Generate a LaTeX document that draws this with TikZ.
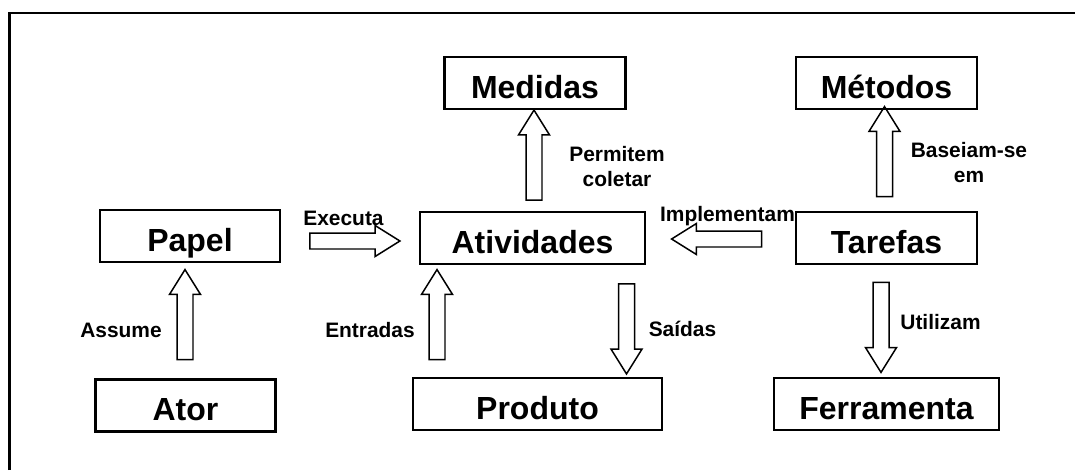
\documentclass[tikz,border=0pt]{standalone}
\usepackage{fontspec}
\setmainfont{Liberation Sans}
\usetikzlibrary{shapes.arrows}
\begin{document}
\begin{tikzpicture}[
    caixa/.style={draw,line width=1.3pt,inner xsep=0pt,inner ysep=0pt,
      text height=0.82cm,text depth=0.22cm,font=\fontsize{18.2}{20}\selectfont\bfseries},
    seta/.style={draw,line width=0.85pt,single arrow,single arrow head extend=0.15cm,
      single arrow tip angle=64,single arrow head indent=0pt,inner sep=0.145cm,minimum height=1.8cm},
    rotulo/.style={font=\fontsize{11.9}{13.7}\selectfont\bfseries,inner sep=0pt,align=center}]
      \useasboundingbox(0,0)rectangle(21.5,9.4);
      \draw[line width=1.3pt](0.19,0)--(0.19,9.14)--(21.5,9.14);

      \node[caixa,minimum width=3.62cm](medidas) at (10.70,7.74){Medidas};
      \node[caixa,minimum width=3.62cm](metodos) at (17.73,7.74){Métodos};
      \node[caixa,minimum width=3.60cm](papel) at (3.80,4.68){Papel};
      \node[caixa,minimum width=4.49cm](atividades) at (10.65,4.64){Atividades};
      \node[caixa,minimum width=3.62cm](tarefas) at (17.73,4.64){Tarefas};
      \node[caixa,minimum width=3.60cm](ator) at (3.71,1.29){Ator};
      \node[caixa,minimum width=4.97cm](produto) at (10.75,1.32){Produto};
      \node[caixa,minimum width=4.50cm](ferramenta) at (17.73,1.32){Ferramenta};

      \node[seta](executa) at (6.97,4.58){};
      \node[seta,shape border rotate=180](implementam) at (14.46,4.62){};
      \node[seta,shape border rotate=90](permitem) at (10.68,6.17){};
      \node[seta,shape border rotate=90](baseiam) at (17.69,6.24){};
      \node[seta,shape border rotate=90](assume) at (3.70,2.98){};
      \node[seta,shape border rotate=90](entradas) at (8.74,2.98){};
      \node[seta,shape border rotate=270](saidas) at (12.53,2.95){};
      \node[seta,shape border rotate=270](utilizam) at (17.62,2.98){};

      \node[rotulo,anchor=base](lexecuta) at (6.87,4.90){Executa};
      \node[rotulo,anchor=base](limplementam) at (14.55,4.98){Implementam};
      \node[rotulo](lpermitem) at (12.34,6.07){Permitem\\coletar};
      \node[rotulo](lbaseiam) at (19.38,6.15){Baseiam-se\\em};
      \node[rotulo,anchor=base](lassume) at (2.42,2.66){Assume};
      \node[rotulo,anchor=base](lentradas) at (7.40,2.66){Entradas};
      \node[rotulo,anchor=base](lsaidas) at (13.65,2.68){Saídas};
      \node[rotulo,anchor=base](lutilizam) at (18.81,2.82){Utilizam};
    \end{tikzpicture}
\end{document}
